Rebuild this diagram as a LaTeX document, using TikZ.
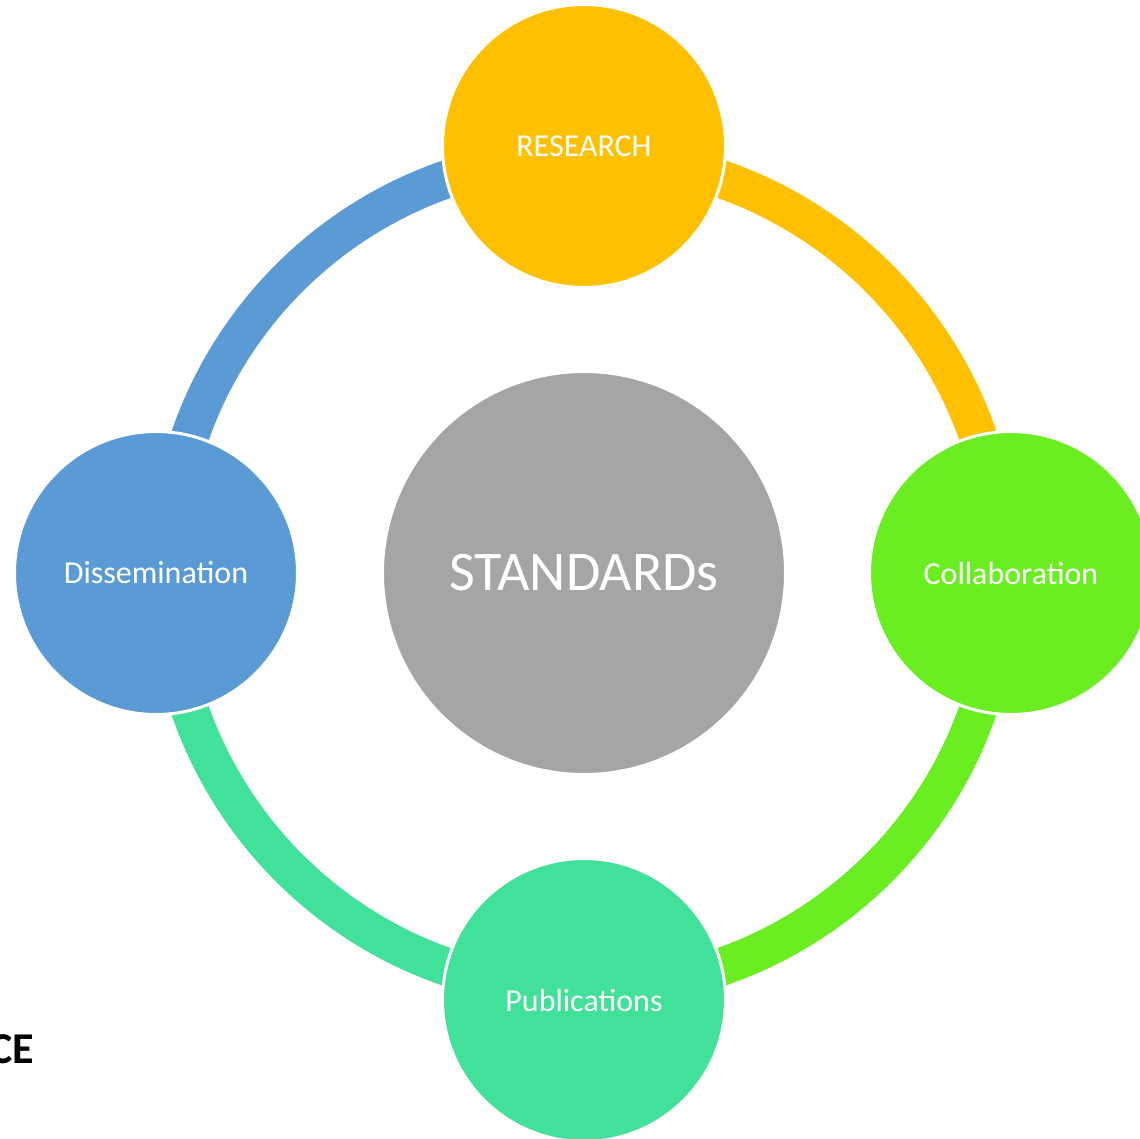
\documentclass[tikz,border=0pt]{standalone}
\usepackage{fontspec}
\setmainfont{Carlito}
\definecolor{cyellow}{HTML}{FFC000}
\definecolor{cgreen}{HTML}{6AEE22}
\definecolor{cteal}{HTML}{41E19A}
\definecolor{cblue}{HTML}{5B9BD5}
\definecolor{cgray}{HTML}{A5A5A5}
\begin{document}
\begin{tikzpicture}[x=1pt,y=1pt,
  ringarc/.style={line width=38pt},
  petal/.style={circle, draw=white, line width=3pt, minimum size=283pt, inner sep=0pt, text=white, font=\fontsize{32}{32}\selectfont},
  hubnode/.style={circle, draw=white, line width=3pt, minimum size=403pt, inner sep=0pt, fill=cgray, text=white, font=\fontsize{56}{56}\selectfont}
]
\useasboundingbox (0,0) rectangle (1140,-1138);
\clip (0,0) rectangle (1140,-1138);
\coordinate (c) at (584,-573);
\draw[ringarc, cyellow] ([shift={(90:417)}]c) arc[start angle=90, end angle=0, radius=417];
\draw[ringarc, cgreen] ([shift={(0:417)}]c) arc[start angle=0, end angle=-90, radius=417];
\draw[ringarc, cteal] ([shift={(-90:417)}]c) arc[start angle=-90, end angle=-180, radius=417];
\draw[ringarc, cblue] ([shift={(180:417)}]c) arc[start angle=180, end angle=90, radius=417];
\node[hubnode] (hub) at (c) {STANDARDs};
\node[petal, fill=cyellow] (research) at (584,-146) {RESEARCH};
\node[petal, fill=cgreen] (collab) at (1011,-573) {Collaboration};
\node[petal, fill=cteal] (pub) at (584,-1000) {Publications};
\node[petal, fill=cblue] (diss) at (156,-573) {Dissemination};
\node[anchor=base east, inner sep=0pt, font=\bfseries\fontsize{44}{44}\selectfont] (ce) at (34,-1063) {CE};
\end{tikzpicture}
\end{document}
